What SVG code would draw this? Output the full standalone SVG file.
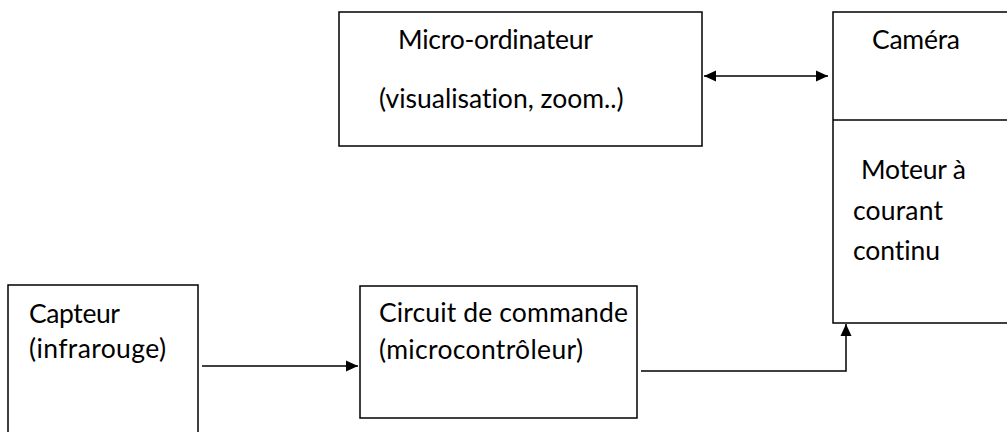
<svg xmlns="http://www.w3.org/2000/svg" width="1007" height="432" viewBox="0 0 1007 432">
  <style>
    .box { fill: #ffffff; stroke: #000000; stroke-width: 1.5; }
    .wire { fill: none; stroke: #000000; stroke-width: 1.5; }
    .lbl { font-family: Lato, "Liberation Sans", sans-serif; font-size: 26.5px; fill: #000000; font-variant-ligatures: none; }
  </style>
  <defs>
    <marker id="head" viewBox="0 0 12 12" refX="12" refY="6" markerWidth="12" markerHeight="12" markerUnits="userSpaceOnUse" orient="auto-start-reverse">
      <path d="M0,0.5 L12,6 L0,11.5 Z" fill="#000000"/>
    </marker>
  </defs>
  <rect width="1007" height="432" fill="#ffffff"/>

  <g id="micro-ordinateur">
    <rect class="box" x="339" y="12" width="363" height="134"/>
    <text class="lbl" x="398" y="49" textLength="195">Micro-ordinateur</text>
    <text class="lbl" x="379" y="108">(visualisation, zoom..)</text>
  </g>

  <g id="camera-moteur">
    <rect class="box" x="833" y="12" width="190" height="311"/>
    <line class="wire" x1="833" y1="120" x2="1010" y2="120"/>
    <text class="lbl" x="872" y="49" textLength="88">Caméra</text>
    <text class="lbl" x="861" y="179" textLength="105">Moteur à</text>
    <text class="lbl" x="853" y="220" textLength="90">courant</text>
    <text class="lbl" x="853" y="260" textLength="87">continu</text>
  </g>

  <g id="capteur">
    <rect class="box" x="8" y="285" width="190" height="160"/>
    <text class="lbl" x="29" y="323" textLength="91">Capteur</text>
    <text class="lbl" x="29" y="358" textLength="137">(infrarouge)</text>
  </g>

  <g id="circuit-commande">
    <rect class="box" x="360" y="286" width="277" height="132"/>
    <text class="lbl" x="379" y="322" textLength="249">Circuit de commande</text>
    <text class="lbl" x="379" y="359" textLength="204">(microcontrôleur)</text>
  </g>

  <g id="connectors">
    <line class="wire" x1="704" y1="76" x2="828" y2="76" marker-start="url(#head)" marker-end="url(#head)"/>
    <line class="wire" x1="202" y1="366" x2="358" y2="366" marker-end="url(#head)"/>
    <polyline class="wire" points="641,371 846,371 846,324" marker-end="url(#head)"/>
  </g>
</svg>
